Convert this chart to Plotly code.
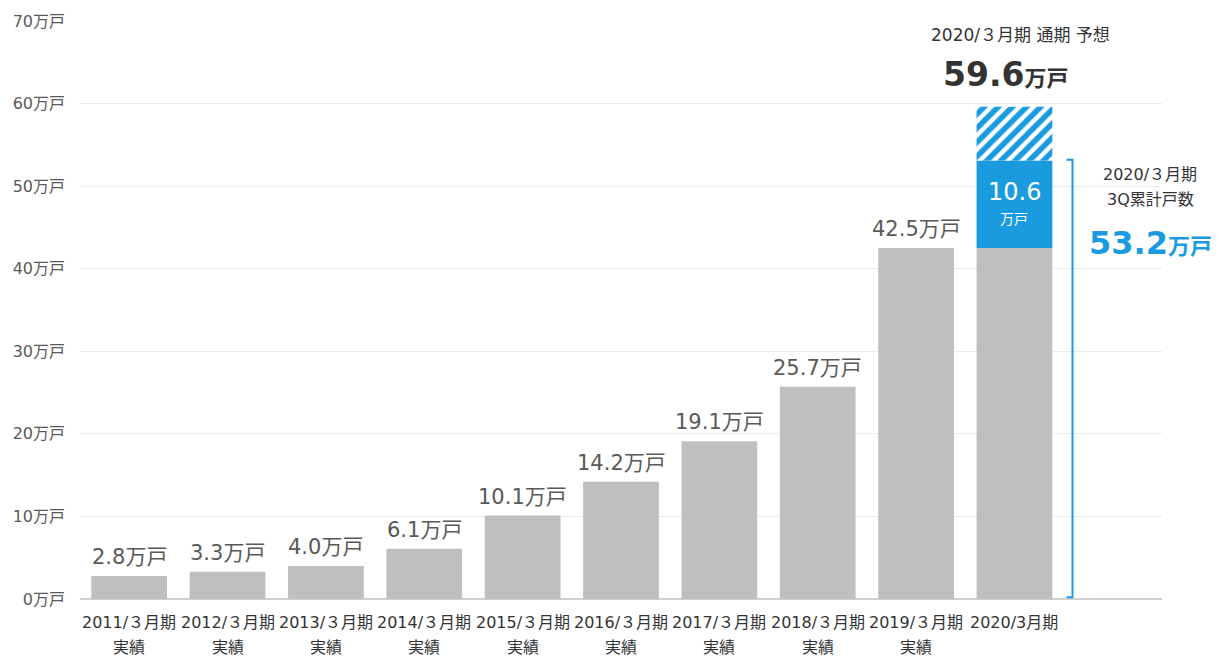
import plotly.graph_objects as go

# --- data -------------------------------------------------------------
periods = ["2011/３月期", "2012/３月期", "2013/３月期", "2014/３月期", "2015/３月期",
           "2016/３月期", "2017/３月期", "2018/３月期", "2019/３月期", "2020/3月期"]
sublabels = ["実績"] * 9 + [""]
actual = [2.8, 3.3, 4.0, 6.1, 10.1, 14.2, 19.1, 25.7, 42.5, 42.5]  # 万戸
q3_increment = 10.6      # 2020/3 3Q increment over previous year
q3_cumulative = 53.2     # 2020/3 3Q cumulative
forecast_total = 59.6    # 2020/3 full-year forecast
y_ticks = [0, 10, 20, 30, 40, 50, 60, 70]

GRAY = "#BFBFBF"
BLUE = "#1A9BE0"
TEXT = "#595959"
DARK = "#333333"
FONT = "DejaVu Sans, Noto Sans CJK JP"

xs = list(range(len(periods)))
last = xs[-1]
stack_top = actual[-1] + q3_increment
hatch_part = forecast_total - stack_top

fig = go.Figure()
fig.add_trace(go.Bar(x=xs, y=actual, marker=dict(color=GRAY, line=dict(width=0)),
                     width=0.77, hoverinfo="skip"))
fig.add_trace(go.Bar(x=[last], y=[q3_increment], base=[actual[-1]],
                     marker=dict(color=BLUE, line=dict(width=0)),
                     width=0.77, hoverinfo="skip"))
fig.add_trace(go.Bar(x=[last], y=[hatch_part], base=[stack_top],
                     marker=dict(color="white", line=dict(width=0),
                                 pattern=dict(shape="/", fgcolor=BLUE, bgcolor="white",
                                              fgopacity=1, size=10, solidity=0.55)),
                     width=0.77, hoverinfo="skip"))

annotations = []
# value labels above the actual bars
for i in xs[:-1]:
    annotations.append(dict(x=i, y=actual[i], text=f"{actual[i]:.1f}万戸",
                            showarrow=False, yanchor="bottom", yshift=5,
                            font=dict(family=FONT, size=21, color=TEXT)))

# labels inside the blue segment
mid = actual[-1] + q3_increment / 2
annotations.append(dict(x=last, y=mid, text=f"{q3_increment:.1f}", showarrow=False,
                        yshift=12, font=dict(family=FONT, size=24, color="white")))
annotations.append(dict(x=last, y=mid, text="万戸", showarrow=False, yshift=-15,
                        font=dict(family=FONT, size=14, color="white")))

# full-year forecast heading
annotations.append(dict(x=last, y=forecast_total, text="2020/３月期 通期 予想",
                        showarrow=False, yanchor="middle", yshift=72, xshift=6,
                        font=dict(family=FONT, size=17, color=DARK)))
annotations.append(dict(x=last, y=forecast_total,
                        text=f"<b>{forecast_total:.1f}<span style='font-size:22px'>万戸</span></b>",
                        showarrow=False, yanchor="middle", yshift=32, xshift=-9,
                        font=dict(family=FONT, size=33, color=DARK)))

# 3Q cumulative callout on the right
cx = last + 1.38
annotations.append(dict(x=cx, y=q3_cumulative, text="2020/３月期",
                        showarrow=False, yanchor="middle", yshift=-15,
                        font=dict(family=FONT, size=16, color=DARK)))
annotations.append(dict(x=cx, y=q3_cumulative, text="3Q累計戸数",
                        showarrow=False, yanchor="middle", yshift=-40,
                        font=dict(family=FONT, size=16, color=DARK)))
annotations.append(dict(x=cx, y=q3_cumulative,
                        text=f"<b>{q3_cumulative:.1f}<span style='font-size:22px'>万戸</span></b>",
                        showarrow=False, yanchor="middle", yshift=-83,
                        font=dict(family=FONT, size=32, color=BLUE)))

# x category labels (two lines)
for i in xs:
    annotations.append(dict(x=i, y=0, text=periods[i], showarrow=False,
                            yanchor="middle", yshift=-23,
                            font=dict(family=FONT, size=16, color=DARK)))
    if sublabels[i]:
        annotations.append(dict(x=i, y=0, text=sublabels[i], showarrow=False,
                                yanchor="middle", yshift=-48,
                                font=dict(family=FONT, size=16, color=DARK)))

# bracket for the 3Q cumulative figure
bx = last + 0.59
hook = 0.06
shapes = [dict(type="path", xref="x", yref="y",
               path=f"M {bx-hook},{q3_cumulative} L {bx},{q3_cumulative} L {bx},0.2 L {bx-hook},0.2",
               line=dict(color=BLUE, width=2))]

fig.update_layout(
    width=1225, height=659,
    margin=dict(l=80, r=63, t=17, b=60),
    paper_bgcolor="white", plot_bgcolor="white",
    barmode="overlay", showlegend=False, bargap=0.23,
    font=dict(family=FONT, color=TEXT),
    annotations=annotations, shapes=shapes,
    xaxis=dict(range=[-0.5, 10.5], showticklabels=False, showgrid=False,
               zeroline=False, showline=False, fixedrange=True),
    yaxis=dict(range=[0, 70], tickvals=y_ticks, ticktext=[f"{v}万戸" for v in y_ticks],
               tickfont=dict(family=FONT, size=16, color=TEXT), ticklabelstandoff=14,
               showgrid=True, gridcolor="#EBEBEB", gridwidth=1,
               zeroline=True, zerolinecolor="#D0D0D0", zerolinewidth=1.5,
               showline=False, fixedrange=True),
)

fig.write_html("out.html")
